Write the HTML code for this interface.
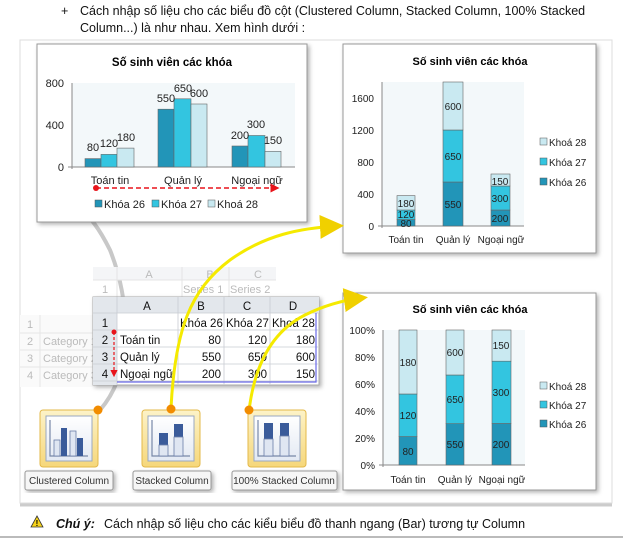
<!DOCTYPE html>
<html><head><meta charset="utf-8"><style>
html,body{margin:0;padding:0;background:#fff;}
svg{display:block;font-family:"Liberation Sans",Arial,sans-serif;}
</style></head><body>
<svg width="623" height="539" viewBox="0 0 623 539" xmlns="http://www.w3.org/2000/svg">
<defs>
<filter id="sh" x="-10%" y="-10%" width="120%" height="125%"><feDropShadow dx="2" dy="2" stdDeviation="2" flood-color="#000" flood-opacity="0.3"/></filter>
<linearGradient id="ic" x1="0" y1="0" x2="0" y2="1"><stop offset="0" stop-color="#fdf3c8"/><stop offset="1" stop-color="#f6d77a"/></linearGradient>
<linearGradient id="ib" x1="0" y1="0" x2="0" y2="1"><stop offset="0" stop-color="#ffffff"/><stop offset="1" stop-color="#e3e9f3"/></linearGradient>
<marker id="ra" markerWidth="6" markerHeight="6" refX="5" refY="3" orient="auto"><path d="M0,0 L6,3 L0,6z" fill="#e8141b"/></marker>
<marker id="ya" markerWidth="8" markerHeight="8" refX="6" refY="4" orient="auto"><path d="M0,0 L8,4 L0,8z" fill="#f0d000"/></marker>
</defs>

<text x="61" y="15" font-size="12.5" fill="#111">+</text>
<text x="80" y="15" font-size="12.5" fill="#111">Cách nhập số liệu cho các biểu đồ cột (Clustered Column, Stacked Column, 100% Stacked</text>
<text x="80" y="32" font-size="12.5" fill="#111">Column...) là như nhau. Xem hình dưới :</text>

<rect x="20" y="40" width="592" height="463" fill="#fff" stroke="#ddd" stroke-width="1"/>
<line x1="20" y1="505" x2="612" y2="505" stroke="#ccc" stroke-width="3"/>

<path d="M100,410 C135,370 130,300 110,250 C100,230 90,215 75,205" fill="none" stroke="#c8c8c8" stroke-width="4"/>

<!-- Chart 1 -->
<rect x="37" y="44" width="270" height="178" fill="#fff" stroke="#999" filter="url(#sh)"/>
<text x="172" y="66" font-size="11.5" font-weight="bold" text-anchor="middle">Số sinh viên các khóa</text>
<rect x="72" y="83" width="223" height="84" fill="#f3f8fa"/>
<line x1="72" y1="83" x2="72" y2="169" stroke="#888"/>
<line x1="68" y1="167" x2="295" y2="167" stroke="#888"/>
<g font-size="11" text-anchor="end" fill="#222"><text x="64" y="87">800</text><text x="64" y="129">400</text><text x="64" y="171">0</text></g>
<g stroke="#666" stroke-width="0.6">
<rect x="85" y="158.6" width="16" height="8.4" fill="#2295b8"/><rect x="101" y="154.4" width="16" height="12.6" fill="#33c5e0"/><rect x="117" y="148.1" width="17" height="18.9" fill="#c9e9f1"/>
<rect x="158" y="109.2" width="16" height="57.8" fill="#2295b8"/><rect x="174" y="98.8" width="17" height="68.2" fill="#33c5e0"/><rect x="191" y="104" width="16" height="63" fill="#c9e9f1"/>
<rect x="232" y="146" width="16" height="21" fill="#2295b8"/><rect x="248" y="135.5" width="17" height="31.5" fill="#33c5e0"/><rect x="265" y="151.3" width="16" height="15.7" fill="#c9e9f1"/>
</g>
<g font-size="11" text-anchor="middle" fill="#222">
<text x="93" y="151">80</text><text x="109" y="147">120</text><text x="126" y="141">180</text>
<text x="166" y="102">550</text><text x="183" y="92">650</text><text x="199" y="97">600</text>
<text x="240" y="139">200</text><text x="256" y="128">300</text><text x="273" y="144">150</text>
<text x="110" y="184">Toán tin</text><text x="183" y="184">Quản lý</text><text x="257" y="184">Ngoại ngữ</text>
</g>
<circle cx="96" cy="188" r="3" fill="#e8141b"/>
<line x1="96" y1="188" x2="278" y2="188" stroke="#e8141b" stroke-width="1.5" stroke-dasharray="5,3" marker-end="url(#ra)"/>
<g font-size="11" fill="#222">
<rect x="95" y="200" width="7" height="7" fill="#2295b8" stroke="#555" stroke-width="0.5"/><text x="104" y="208">Khóa 26</text>
<rect x="152" y="200" width="7" height="7" fill="#33c5e0" stroke="#555" stroke-width="0.5"/><text x="161" y="208">Khóa 27</text>
<rect x="208" y="200" width="7" height="7" fill="#c9e9f1" stroke="#555" stroke-width="0.5"/><text x="217" y="208">Khoá 28</text>
</g>

<!-- Chart 2 -->
<rect x="343" y="44" width="253" height="209" fill="#fff" stroke="#999" filter="url(#sh)"/>
<text x="470" y="65" font-size="11" font-weight="bold" text-anchor="middle">Số sinh viên các khóa</text>
<rect x="382" y="82" width="142" height="144" fill="#f3f8fa"/>
<line x1="382" y1="82" x2="382" y2="228" stroke="#888"/>
<line x1="378" y1="226" x2="524" y2="226" stroke="#888"/>
<g font-size="10" text-anchor="end" fill="#222"><text x="374" y="102">1600</text><text x="374" y="134">1200</text><text x="374" y="166">800</text><text x="374" y="198">400</text><text x="374" y="230">0</text></g>
<g stroke="#666" stroke-width="0.6">
<rect x="397" y="219.6" width="18" height="6.4" fill="#2295b8"/><rect x="397" y="210" width="18" height="9.6" fill="#33c5e0"/><rect x="397" y="195.6" width="18" height="14.4" fill="#c9e9f1"/>
<rect x="443" y="182" width="20" height="44" fill="#2295b8"/><rect x="443" y="130" width="20" height="52" fill="#33c5e0"/><rect x="443" y="82" width="20" height="48" fill="#c9e9f1"/>
<rect x="491" y="210" width="19" height="16" fill="#2295b8"/><rect x="491" y="186" width="19" height="24" fill="#33c5e0"/><rect x="491" y="174" width="19" height="12" fill="#c9e9f1"/>
</g>
<g font-size="10" text-anchor="middle" fill="#222">
<text x="406" y="227">80</text><text x="406" y="218">120</text><text x="406" y="207">180</text>
<text x="453" y="208">550</text><text x="453" y="160">650</text><text x="453" y="110">600</text>
<text x="500" y="222">200</text><text x="500" y="202">300</text><text x="500" y="185">150</text>
<text x="406" y="243">Toán tin</text><text x="453" y="243">Quản lý</text><text x="501" y="243">Ngoại ngữ</text>
</g>
<g font-size="10" fill="#222">
<rect x="540" y="138" width="7" height="7" fill="#c9e9f1" stroke="#555" stroke-width="0.5"/><text x="549" y="146">Khoá 28</text>
<rect x="540" y="158" width="7" height="7" fill="#33c5e0" stroke="#555" stroke-width="0.5"/><text x="549" y="166">Khóa 27</text>
<rect x="540" y="178" width="7" height="7" fill="#2295b8" stroke="#555" stroke-width="0.5"/><text x="549" y="186">Khóa 26</text>
</g>

<!-- Chart 3 -->
<rect x="343" y="293" width="253" height="197" fill="#fff" stroke="#999" filter="url(#sh)"/>
<text x="470" y="313" font-size="11" font-weight="bold" text-anchor="middle">Số sinh viên các khóa</text>
<rect x="383" y="330" width="142" height="135" fill="#f3f8fa"/>
<line x1="383" y1="330" x2="383" y2="467" stroke="#888"/>
<line x1="379" y1="465" x2="525" y2="465" stroke="#888"/>
<g font-size="10" text-anchor="end" fill="#222"><text x="375" y="334">100%</text><text x="375" y="361">80%</text><text x="375" y="388">60%</text><text x="375" y="415">40%</text><text x="375" y="442">20%</text><text x="375" y="469">0%</text></g>
<g stroke="#666" stroke-width="0.6">
<rect x="399" y="436.6" width="18" height="28.4" fill="#2295b8"/><rect x="399" y="394" width="18" height="42.6" fill="#33c5e0"/><rect x="399" y="330" width="18" height="64" fill="#c9e9f1"/>
<rect x="446" y="423.7" width="18" height="41.3" fill="#2295b8"/><rect x="446" y="375" width="18" height="48.7" fill="#33c5e0"/><rect x="446" y="330" width="18" height="45" fill="#c9e9f1"/>
<rect x="492" y="423.5" width="19" height="41.5" fill="#2295b8"/><rect x="492" y="361.2" width="19" height="62.3" fill="#33c5e0"/><rect x="492" y="330" width="19" height="31.2" fill="#c9e9f1"/>
</g>
<g font-size="10" text-anchor="middle" fill="#222">
<text x="408" y="455">80</text><text x="408" y="419">120</text><text x="408" y="366">180</text>
<text x="455" y="448">550</text><text x="455" y="403">650</text><text x="455" y="356">600</text>
<text x="501" y="448">200</text><text x="501" y="396">300</text><text x="501" y="349">150</text>
<text x="408" y="483">Toán tin</text><text x="455" y="483">Quản lý</text><text x="502" y="483">Ngoại ngữ</text>
</g>
<g font-size="10" fill="#222">
<rect x="540" y="382" width="7" height="7" fill="#c9e9f1" stroke="#555" stroke-width="0.5"/><text x="549" y="390">Khoá 28</text>
<rect x="540" y="401" width="7" height="7" fill="#33c5e0" stroke="#555" stroke-width="0.5"/><text x="549" y="409">Khóa 27</text>
<rect x="540" y="420" width="7" height="7" fill="#2295b8" stroke="#555" stroke-width="0.5"/><text x="549" y="428">Khóa 26</text>
</g>

<!-- faded back sheets -->
<g font-size="11" fill="#bbb">
<rect x="93" y="267" width="183" height="13" fill="#f4f5f7"/>
<g stroke="#e4e4e4" fill="none"><line x1="117" y1="267" x2="117" y2="300"/><line x1="182" y1="267" x2="182" y2="300"/><line x1="229" y1="267" x2="229" y2="300"/><line x1="93" y1="280" x2="276" y2="280"/></g>
<text x="149" y="278" text-anchor="middle">A</text><text x="210" y="278" text-anchor="middle">B</text><text x="258" y="278" text-anchor="middle">C</text>
<text x="105" y="293" text-anchor="middle">1</text><text x="183" y="293">Series 1</text><text x="230" y="293">Series 2</text>
<rect x="20" y="315" width="75" height="72" fill="#fafafa"/>
<g stroke="#e6e6e6"><line x1="20" y1="333" x2="95" y2="333"/><line x1="20" y1="350" x2="95" y2="350"/><line x1="20" y1="367" x2="95" y2="367"/><line x1="40" y1="315" x2="40" y2="387"/></g>
<text x="30" y="328" text-anchor="middle">1</text><text x="30" y="345" text-anchor="middle">2</text><text x="30" y="362" text-anchor="middle">3</text><text x="30" y="379" text-anchor="middle">4</text>
<text x="43" y="345">Category 1</text><text x="43" y="362">Category 2</text><text x="43" y="379">Category 3</text>
</g>

<!-- front sheet -->
<rect x="93" y="297" width="226" height="88" fill="#fff" stroke="#aaa" filter="url(#sh)"/>
<rect x="93" y="297" width="226" height="16" fill="#e3e7ec"/>
<rect x="93" y="297" width="24" height="88" fill="#e3e7ec"/>
<g stroke="#c8ccd2" stroke-width="0.8">
<line x1="117" y1="297" x2="117" y2="385"/><line x1="178" y1="297" x2="178" y2="385"/><line x1="224" y1="297" x2="224" y2="385"/><line x1="270" y1="297" x2="270" y2="385"/>
<line x1="93" y1="313" x2="319" y2="313"/><line x1="93" y1="330" x2="319" y2="330"/><line x1="93" y1="347" x2="319" y2="347"/><line x1="93" y1="364" x2="319" y2="364"/><line x1="93" y1="381" x2="319" y2="381"/>
</g>
<g font-size="11.5" fill="#111">
<text x="147" y="310" text-anchor="middle">A</text><text x="201" y="310" text-anchor="middle">B</text><text x="247" y="310" text-anchor="middle">C</text><text x="293" y="310" text-anchor="middle">D</text>
<text x="105" y="327" text-anchor="middle">1</text><text x="105" y="344" text-anchor="middle">2</text><text x="105" y="361" text-anchor="middle">3</text><text x="105" y="378" text-anchor="middle">4</text>
<text x="180" y="327">Khóa 26</text><text x="226" y="327">Khóa 27</text><text x="272" y="327">Khoá 28</text>
<text x="120" y="344">Toán tin</text><text x="120" y="361">Quản lý</text><text x="120" y="378">Ngoại ngữ</text>
<g text-anchor="end"><text x="221" y="344">80</text><text x="267" y="344">120</text><text x="315" y="344">180</text>
<text x="221" y="361">550</text><text x="267" y="361">650</text><text x="315" y="361">600</text>
<text x="221" y="378">200</text><text x="267" y="378">300</text><text x="315" y="378">150</text></g>
</g>
<path d="M117,382 H316 V313" fill="none" stroke="#6a6ae8" stroke-width="1.2"/>
<circle cx="114" cy="332" r="2.5" fill="#e8141b"/>
<line x1="114" y1="332" x2="114" y2="376" stroke="#e8141b" stroke-width="1.2" stroke-dasharray="3,2" marker-end="url(#ra)"/>

<path d="M171,408 C175,330 190,290 230,260 C265,235 300,228 338,226" fill="none" stroke="#f5ea00" stroke-width="3" marker-end="url(#ya)"/>
<path d="M249,411 C255,360 275,330 305,315 C325,305 345,300 362,298" fill="none" stroke="#f5ea00" stroke-width="3" marker-end="url(#ya)"/>

<g>
<rect x="40" y="410" width="58" height="57" rx="3" fill="url(#ic)" stroke="#e3b84a"/>
<rect x="46" y="416" width="46" height="45" fill="url(#ib)" stroke="#9aa8c0"/>
<path d="M50,420 V456 H88" fill="none" stroke="#7888a8" stroke-width="1.2"/>
<rect x="54" y="440" width="6" height="16" fill="#dfe6f2" stroke="#6a7ea8" stroke-width="0.8"/><rect x="61" y="428" width="6" height="28" fill="#3a5b9a"/><rect x="70" y="431" width="6" height="25" fill="#dfe6f2" stroke="#6a7ea8" stroke-width="0.8"/><rect x="77" y="438" width="6" height="18" fill="#3a5b9a"/>
<rect x="25" y="471" width="88" height="19" rx="2" fill="#f6f6f6" stroke="#999" filter="url(#sh)"/>
<text x="69" y="484" font-size="10" text-anchor="middle" fill="#333">Clustered Column</text>
<circle cx="98" cy="410" r="4.5" fill="#f28c00"/>

<rect x="142" y="410" width="58" height="57" rx="3" fill="url(#ic)" stroke="#e3b84a"/>
<rect x="148" y="416" width="46" height="45" fill="url(#ib)" stroke="#9aa8c0"/>
<path d="M152,420 V456 H190" fill="none" stroke="#7888a8" stroke-width="1.2"/>
<rect x="159" y="433" width="9" height="12" fill="#3a5b9a"/><rect x="159" y="445" width="9" height="11" fill="#dfe6f2" stroke="#6a7ea8" stroke-width="0.8"/>
<rect x="174" y="424" width="9" height="13" fill="#3a5b9a"/><rect x="174" y="437" width="9" height="19" fill="#dfe6f2" stroke="#6a7ea8" stroke-width="0.8"/>
<rect x="133" y="471" width="78" height="19" rx="2" fill="#f6f6f6" stroke="#999" filter="url(#sh)"/>
<text x="172" y="484" font-size="10" text-anchor="middle" fill="#333">Stacked Column</text>
<circle cx="171" cy="409" r="4.5" fill="#f28c00"/>

<rect x="248" y="410" width="58" height="57" rx="3" fill="url(#ic)" stroke="#e3b84a"/>
<rect x="254" y="416" width="46" height="45" fill="url(#ib)" stroke="#9aa8c0"/>
<path d="M258,420 V456 H296" fill="none" stroke="#7888a8" stroke-width="1.2"/>
<rect x="264" y="423" width="9" height="16" fill="#3a5b9a"/><rect x="264" y="439" width="9" height="17" fill="#dfe6f2" stroke="#6a7ea8" stroke-width="0.8"/>
<rect x="280" y="423" width="9" height="13" fill="#3a5b9a"/><rect x="280" y="436" width="9" height="20" fill="#dfe6f2" stroke="#6a7ea8" stroke-width="0.8"/>
<rect x="232" y="471" width="105" height="19" rx="2" fill="#f6f6f6" stroke="#999" filter="url(#sh)"/>
<text x="284" y="484" font-size="10" text-anchor="middle" fill="#333">100% Stacked Column</text>
<circle cx="249" cy="410" r="4.5" fill="#f28c00"/>
</g>

<path d="M37,516 L43,527 L31,527 Z" fill="#f6d21a" stroke="#333" stroke-width="0.8"/>
<text x="37" y="526" font-size="8" font-weight="bold" text-anchor="middle">!</text>
<text x="56" y="528" font-size="12.5" font-weight="bold" font-style="italic" fill="#111">Chú ý:</text>
<text x="104" y="528" font-size="12.5" fill="#111">Cách nhập số liệu cho các kiểu biểu đồ thanh ngang (Bar) tương tự Column</text>
<line x1="0" y1="537" x2="623" y2="537" stroke="#bbb" stroke-width="2"/>
</svg>
</body></html>
